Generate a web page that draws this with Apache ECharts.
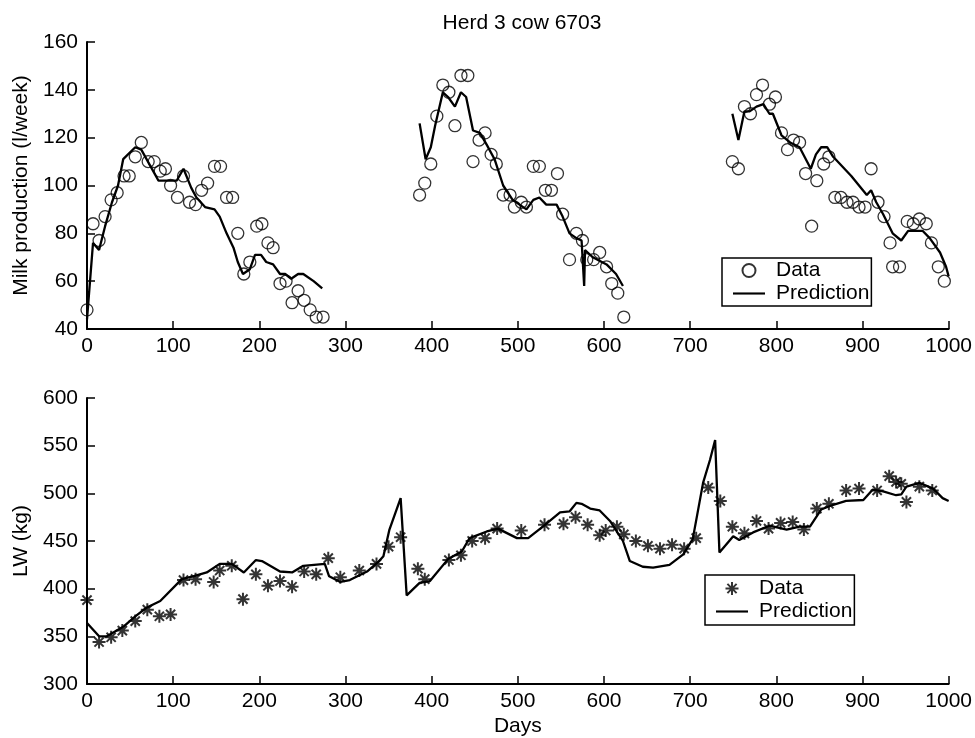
<!DOCTYPE html>
<html><head><meta charset="utf-8">
<script src="https://cdn.jsdelivr.net/npm/echarts@6/dist/echarts.min.js"></script>
<style>html,body{margin:0;padding:0;background:#fff}#c{width:975px;height:738px}</style>
</head><body><div id="c"></div>
<script>
// ---- Data ----
const titleText = 'Herd 3 cow 6703';
const milkData1 = [[0,48],[7,84],[14,77],[21,87],[28,94],[35,97],[43,104],[49,104],[56,112],[63,118],[71,110],[78,110],[85,106],[91,107],[97,100],[105,95],[112,104],[119,93],[126,92],[133,98],[140,101],[148,108],[155,108],[162,95],[169,95],[175,80],[182,63],[189,68],[197,83],[203,84],[210,76],[216,74],[224,59],[231,60],[238,51],[245,56],[252,52],[259,48],[266,45],[274,45]];
const milkData2 = [[386,96],[392,101],[399,109],[406,129],[413,142],[420,139],[427,125],[434,146],[442,146],[448,110],[455,119],[462,122],[469,113],[475,109],[483,96],[491,96],[496,91],[504,93],[510,91],[518,108],[525,108],[532,98],[539,98],[546,105],[552,88],[560,69],[568,80],[575,77],[580,69],[588,69],[595,72],[603,66],[609,59],[616,55],[623,45]];
const milkData3 = [[749,110],[756,107],[763,133],[770,130],[777,138],[784,142],[792,134],[799,137],[806,122],[813,115],[820,119],[827,118],[834,105],[841,83],[847,102],[855,109],[861,112],[868,95],[875,95],[882,93],[889,93],[896,91],[903,91],[910,107],[918,93],[925,87],[932,76],[935,66],[943,66],[952,85],[959,84],[966,86],[974,84],[980,76],[988,66],[995,60]];
const milkPred1 = [[0,44],[7,76],[14,73],[21,83],[29,93],[36,100],[42,111],[56,116],[63,115],[83,102],[92,102],[104,102],[112,107],[121,99],[127,95],[137,91],[148,90],[154,87],[162,80],[170,74],[175,68],[181,63],[189,65],[195,71],[202,71],[208,68],[216,67],[224,63],[230,63],[237,61],[245,63],[251,63],[263,60],[273,57]];
const milkPred2 = [[386,126],[393,111],[399,116],[404,125],[413,139],[419,137],[427,133],[434,139],[440,137],[448,123],[456,122],[464,117],[473,111],[483,100],[494,94],[510,90],[518,94],[525,95],[533,92],[545,92],[552,87],[560,80],[568,78],[574,77],[577,58],[578,73],[587,70],[603,67],[614,63],[622,58]];
const milkPred3 = [[749,130],[756,119],[763,131],[769,131],[777,133],[785,134],[792,130],[796,130],[806,121],[816,118],[827,116],[840,107],[846,113],[852,116],[859,116],[866,112],[887,104],[905,96],[910,98],[916,93],[924,88],[935,80],[945,77],[953,81],[970,81],[978,78],[990,72],[997,66],[1000,62]];
const lwData = [[0,388],[14,344],[28,349],[41,356],[56,366],[70,378],[84,371],[97,373],[112,409],[126,410],[147,407],[154,419],[168,424],[181,389],[196,415],[210,403],[224,408],[238,402],[252,418],[266,415],[280,432],[294,412],[316,419],[336,426],[350,444],[364,454],[384,421],[392,410],[420,430],[434,435],[447,450],[462,453],[476,463],[504,461],[531,467],[553,468],[567,475],[581,467],[595,456],[602,461],[615,465],[623,457],[637,450],[651,445],[665,442],[679,446],[693,442],[707,453],[721,506],[735,492],[749,465],[763,458],[777,471],[791,463],[805,469],[819,470],[832,462],[847,484],[861,489],[881,503],[896,505],[917,503],[931,518],[939,512],[945,510],[951,491],[966,507],[981,503]];
const lwPred = [[0,364],[14,350],[23,350],[42,360],[56,371],[69,380],[85,387],[110,410],[123,413],[139,417],[154,426],[168,426],[182,417],[196,430],[203,429],[224,418],[238,417],[251,424],[276,426],[281,413],[294,407],[305,409],[325,418],[338,428],[344,434],[351,462],[364,495],[371,393],[386,406],[398,408],[419,431],[435,439],[444,453],[464,460],[477,463],[499,453],[512,453],[529,465],[549,480],[560,481],[568,490],[574,489],[584,484],[595,482],[607,471],[622,450],[630,429],[645,423],[657,422],[676,425],[692,436],[703,452],[715,511],[723,535],[729,556],[734,438],[750,455],[757,451],[773,459],[792,466],[812,462],[827,465],[839,465],[852,483],[866,488],[881,492],[901,493],[912,504],[924,502],[939,498],[945,499],[951,507],[966,511],[982,505],[993,495],[1000,492]];
const xRange = [0, 1000, 100];
const milkRange = [40, 160, 20];
const lwRange = [300, 600, 50];

// ---- Chart ----
const FONT = 'Liberation Sans';
const FS = 21;
const milkData = milkData1.concat(milkData2, milkData3);
const milkPred = milkPred1.concat([[330, '-']], milkPred2, [[690, '-']], milkPred3);
const starPath = 'path://M0,-1L0,1M-1,0L1,0M-0.7071,-0.7071L0.7071,0.7071M-0.7071,0.7071L0.7071,-0.7071';
const lineIcon = 'path://M0,0L15,0L15,1L0,1Z';

function xAxis(gi, name) {
  return {
    type: 'value', gridIndex: gi, min: xRange[0], max: xRange[1], interval: xRange[2],
    name: name || '', nameLocation: 'middle', nameGap: 32,
    nameTextStyle: { fontFamily: FONT, fontSize: FS, color: '#000' },
    axisLine: { onZero: false, lineStyle: { color: '#000', width: 2 } },
    axisTick: { inside: true, length: 8, lineStyle: { color: '#000', width: 1.5 } },
    axisLabel: { margin: 7, fontFamily: FONT, fontSize: FS, color: '#000', formatter: v => String(v) },
    splitLine: { show: false }
  };
}
function yAxis(gi, r, name, gapN) {
  return {
    type: 'value', gridIndex: gi, min: r[0], max: r[1], interval: r[2],
    name: name, nameLocation: 'middle', nameGap: gapN,
    nameTextStyle: { fontFamily: FONT, fontSize: FS, color: '#000' },
    axisLine: { show: true, onZero: false, lineStyle: { color: '#000', width: 2 } },
    axisTick: { show: true, inside: true, length: 8, lineStyle: { color: '#000', width: 1.5 } },
    axisLabel: { margin: 9, fontFamily: FONT, fontSize: FS, color: '#000', formatter: v => String(v) },
    splitLine: { show: false }
  };
}
const legendBase = {
  orient: 'vertical', selectedMode: false,
  borderColor: '#000', borderWidth: 1.5, borderRadius: 0,
  itemGap: 2, itemHeight: 13,
  textStyle: { fontFamily: FONT, fontSize: FS, color: '#000', lineHeight: 21, padding: [0, 0, 0, 6] }
};

const chart = echarts.init(document.getElementById('c'), null, { renderer: 'canvas' });
chart.setOption({
  animation: false,
  backgroundColor: '#fff',
  title: { text: titleText, left: 517, top: 8, textAlign: 'center',
    textStyle: { fontFamily: FONT, fontSize: FS, fontWeight: 'normal', color: '#000' } },
  grid: [
    { left: 87, right: 26, top: 42, height: 287 },
    { left: 87, right: 26, top: 398, height: 287 }
  ],
  xAxis: [xAxis(0), xAxis(1, 'Days')],
  yAxis: [yAxis(0, milkRange, 'Milk production (l/week)', 54), yAxis(1, lwRange, 'LW (kg)', 54)],
  legend: [
    Object.assign({}, legendBase, { left: 722, top: 258, padding: [2, 2, 2, 11], itemWidth: 32,
      data: [{ name: 'Data' }, { name: 'Prediction', icon: lineIcon }] }),
    Object.assign({}, legendBase, { left: 705, top: 575, padding: [3, 2, 3, 11], itemWidth: 32,
      data: [{ name: 'LW Data' }, { name: 'LW Prediction', icon: lineIcon }],
      formatter: n => n.replace('LW ', '') })
  ],
  series: [
    { name: 'Prediction', type: 'line', xAxisIndex: 0, yAxisIndex: 0, data: milkPred,
      showSymbol: false, symbol: 'none', connectNulls: false,
      lineStyle: { color: '#000', width: 2.3 }, itemStyle: { color: '#000' }, z: 2 },
    { name: 'Data', type: 'scatter', xAxisIndex: 0, yAxisIndex: 0, data: milkData,
      symbol: 'circle', symbolSize: 12,
      itemStyle: { color: 'transparent', borderColor: '#000', borderWidth: 1.3 }, z: 3 },
    { name: 'LW Prediction', type: 'line', xAxisIndex: 1, yAxisIndex: 1, data: lwPred,
      showSymbol: false, symbol: 'none',
      lineStyle: { color: '#000', width: 2.3 }, itemStyle: { color: '#000' }, z: 2 },
    { name: 'LW Data', type: 'scatter', xAxisIndex: 1, yAxisIndex: 1, data: lwData,
      symbol: starPath, symbolSize: 13,
      itemStyle: { color: 'transparent', borderColor: '#000', borderWidth: 2 }, z: 3 }
  ]
});
</script></body></html>
